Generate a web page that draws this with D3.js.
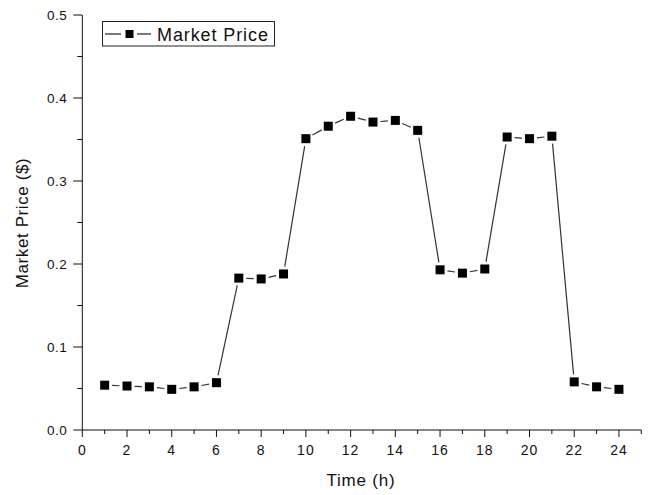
<!DOCTYPE html>
<html><head><meta charset="utf-8">
<script src="https://cdn.jsdelivr.net/npm/d3@7"></script>
<style>body{margin:0;background:#fff}svg{display:block}text{font-family:Arial,'Liberation Sans',sans-serif;fill:#111}</style>
</head><body><svg id="c" width="651" height="495"></svg>
<script>
const hours = [1,2,3,4,5,6,7,8,9,10,11,12,13,14,15,16,17,18,19,20,21,22,23,24];
const prices = [0.054,0.053,0.052,0.049,0.052,0.057,0.183,0.182,0.188,0.351,0.366,0.378,0.371,0.373,0.361,0.193,0.189,0.194,0.353,0.351,0.354,0.058,0.052,0.049];
const xTicks = [0,2,4,6,8,10,12,14,16,18,20,22,24];
const yTicks = [0.0,0.1,0.2,0.3,0.4,0.5];
const seriesName = "Market Price";

const svg = d3.select("#c");
const x = d3.scaleLinear().domain([0,25]).range([82.3,641.3]);
const y = d3.scaleLinear().domain([0,0.5]).range([430,15]);

// x axis
const xMinor = d3.range(1,26,2);
const gx = svg.append("g").attr("transform","translate(0,430)");
gx.append("line").attr("x1",x(0)).attr("x2",x(25)).attr("stroke","#111");
gx.selectAll(".mj").data(xTicks).join("line").attr("x1",d=>x(d)).attr("x2",d=>x(d)).attr("y1",0).attr("y2",7).attr("stroke","#111");
gx.selectAll(".mn").data(xMinor).join("line").attr("x1",d=>x(d)).attr("x2",d=>x(d)).attr("y1",0).attr("y2",4).attr("stroke","#111");
gx.selectAll("text").data(xTicks).join("text").attr("x",d=>x(d)).attr("y",25).attr("text-anchor","middle")
  .style("font-size","14px").style("letter-spacing","1px").text(d=>d);

// y axis
const yMinor = [0.05,0.15,0.25,0.35,0.45];
const gy = svg.append("g");
gy.append("line").attr("x1",x(0)).attr("x2",x(0)).attr("y1",y(0)).attr("y2",y(0.5)).attr("stroke","#111");
gy.selectAll(".mj").data(yTicks).join("line").attr("x1",x(0)-9).attr("x2",x(0)).attr("y1",d=>y(d)).attr("y2",d=>y(d)).attr("stroke","#111");
gy.selectAll(".mn").data(yMinor).join("line").attr("x1",x(0)-5).attr("x2",x(0)).attr("y1",d=>y(d)).attr("y2",d=>y(d)).attr("stroke","#111");
gy.selectAll("text").data(yTicks).join("text").attr("x",x(0)-15).attr("y",d=>y(d)+5).attr("text-anchor","end")
  .style("font-size","13.5px").style("letter-spacing","0.5px").text(d=>d.toFixed(1));

// titles
svg.append("text").attr("x",361).attr("y",486).attr("text-anchor","middle").style("font-size","17px").style("letter-spacing","0.8px").text("Time (h)");
svg.append("text").attr("transform","translate(28,223) rotate(-90)").attr("text-anchor","middle").style("font-size","17px").style("letter-spacing","0.6px").text("Market Price ($)");

// line segments with gaps
const pts = hours.map((h,i)=>[x(h),y(prices[i])]);
const gap = 7.5;
const segs = d3.pairs(pts).map(([a,b])=>{
  const dx=b[0]-a[0], dy=b[1]-a[1], L=Math.hypot(dx,dy);
  return {x1:a[0]+dx/L*gap,y1:a[1]+dy/L*gap,x2:b[0]-dx/L*gap,y2:b[1]-dy/L*gap};
});
svg.append("g").selectAll("line").data(segs).join("line")
  .attr("x1",d=>d.x1).attr("y1",d=>d.y1).attr("x2",d=>d.x2).attr("y2",d=>d.y2)
  .attr("stroke","#333").attr("stroke-width",1.2);
svg.append("g").selectAll("rect").data(pts).join("rect")
  .attr("x",d=>d[0]-4.5).attr("y",d=>d[1]-4.5).attr("width",9).attr("height",9).attr("fill","#000");

// legend
const lg = svg.append("g");
lg.append("rect").attr("x",102.5).attr("y",21.5).attr("width",172).attr("height",24.5).attr("fill","#fff").attr("stroke","#222");
lg.append("line").attr("x1",105).attr("x2",121).attr("y1",34).attr("y2",34).attr("stroke","#222").attr("stroke-width",1.2);
lg.append("line").attr("x1",137).attr("x2",151).attr("y1",34).attr("y2",34).attr("stroke","#222").attr("stroke-width",1.2);
lg.append("rect").attr("x",125.5).attr("y",30).attr("width",8).attr("height",8).attr("fill","#000");
lg.append("text").attr("x",157).attr("y",40.5).style("font-size","18px").style("letter-spacing","0.9px").text(seriesName);
</script></body></html>
